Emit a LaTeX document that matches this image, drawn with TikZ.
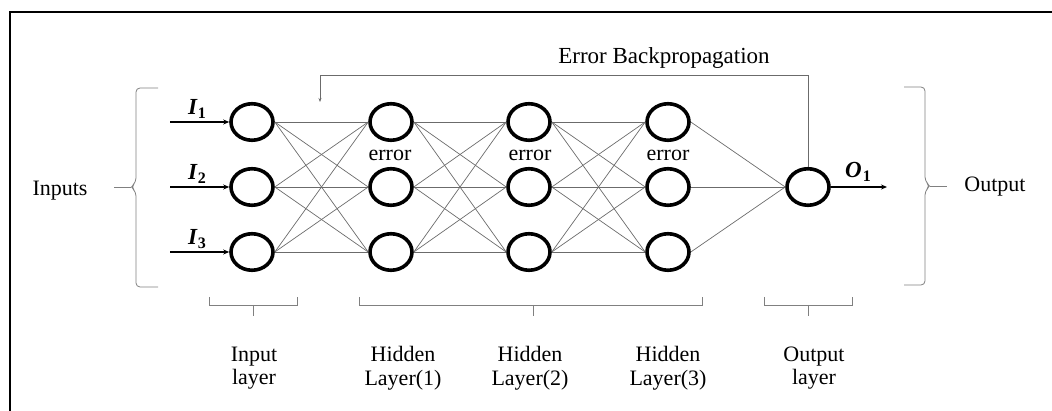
\documentclass[tikz,border=0pt]{standalone}
\usepackage{fontspec}
\setmainfont{Liberation Serif}
\usetikzlibrary{shapes.geometric,arrows.meta}
\newcommand{\sublbl}[2]{{\bfseries\itshape #1}\kern1pt\raisebox{-4pt}{\fontsize{16}{16}\selectfont\bfseries #2}}
\begin{document}
\begin{tikzpicture}[x=1pt,y=-1pt,
  neuron/.style={ellipse,draw,line width=3.6pt,minimum width=42pt,minimum height=36.5pt,inner sep=0pt},
  conn/.style={draw=black!58,line width=0.7pt},
  thickarrow/.style={line width=2pt,-{Stealth[length=6pt,width=5pt]}},
  brace/.style={draw=black!50,line width=0.8pt},
  txt/.style={font=\fontsize{22}{23.5}\selectfont,inner sep=0pt,align=center},
  lbl/.style={font=\fontsize{23}{24}\selectfont,inner sep=0pt}
]
\useasboundingbox (0,0) rectangle (1052,411);
\draw[line width=2pt] (10,411) -- (10,12) -- (1052,12);

% neurons
\foreach \r/\y in {1/122,2/187,3/252}{
  \node[neuron] (i\r) at (252,\y) {};
  \node[neuron] (ha\r) at (391,\y) {};
  \node[neuron] (hb\r) at (529,\y) {};
  \node[neuron] (hc\r) at (668,\y) {};
}
\node[neuron] (o) at (808,187) {};

% connections
\foreach \a in {1,2,3}{
  \foreach \b in {1,2,3}{
    \draw[conn] (i\a.east) -- (ha\b.west);
    \draw[conn] (ha\a.east) -- (hb\b.west);
    \draw[conn] (hb\a.east) -- (hc\b.west);
  }
  \draw[conn] (hc\a.east) -- (o.west);
}

% inputs
\foreach \r/\y in {1/122,2/187,3/252}{
  \coordinate (s\r) at (170,\y);
  \draw[thickarrow] (s\r) -- (i\r.west);
}
\node[lbl] (l1) at (197,109) {\sublbl{I}{1}};
\node[lbl] (l2) at (197,174) {\sublbl{I}{2}};
\node[lbl] (l3) at (197,239) {\sublbl{I}{3}};

% output
\coordinate (oe) at (887,187);
\draw[thickarrow] (o.east) -- (oe);
\node[lbl] (lo) at (858,172) {\sublbl{O}{1}};

% error labels
\node[txt,anchor=base] (e1) at (390,161) {error};
\node[txt,anchor=base] (e2) at (530,161) {error};
\node[txt,anchor=base] (e3) at (668,161) {error};

% feedback
\coordinate (fbtop) at (320,75);
\coordinate (fb) at (320,102);
\draw[conn,-{Stealth[length=4pt,width=3pt]}] (o.north) |- (fbtop) -- (fb);
\node[txt,anchor=base,font=\fontsize{23}{25}\selectfont] (eb) at (664,64) {Error Backpropagation};

% side braces
\draw[brace,rounded corners=4pt] (158,88) -- (136,88) -- (136,182) -- (131,187) -- (136,192) -- (136,287) -- (158,287);
\draw[brace] (131,187) -- (114,187);
\draw[brace,rounded corners=4pt] (904,87) -- (925,87) -- (925,181) -- (930,186) -- (925,191) -- (925,285) -- (904,285);
\draw[brace] (930,186) -- (947,186);
\node[txt,anchor=base] (inp) at (60,196) {Inputs};
\node[txt,anchor=base] (outp) at (995,192) {Output};

% bottom braces
\draw[brace] (209,297) -- (209,305) -- (297,305) -- (297,297);
\draw[brace] (253,305) -- (253,316);
\draw[brace] (359,297) -- (359,305) -- (702,305) -- (702,297);
\draw[brace] (533,305) -- (533,316);
\draw[brace] (764,297) -- (764,305) -- (852,305) -- (852,297);
\draw[brace] (808,305) -- (808,316);

% layer labels
\node[txt] (t1) at (254,368) {Input\\layer};
\node[txt] (t2) at (403,368) {Hidden\\Layer(1)};
\node[txt] (t3) at (530,368) {Hidden\\Layer(2)};
\node[txt] (t4) at (668,368) {Hidden\\Layer(3)};
\node[txt] (t5) at (814,368) {Output\\layer};
\end{tikzpicture}
\end{document}
